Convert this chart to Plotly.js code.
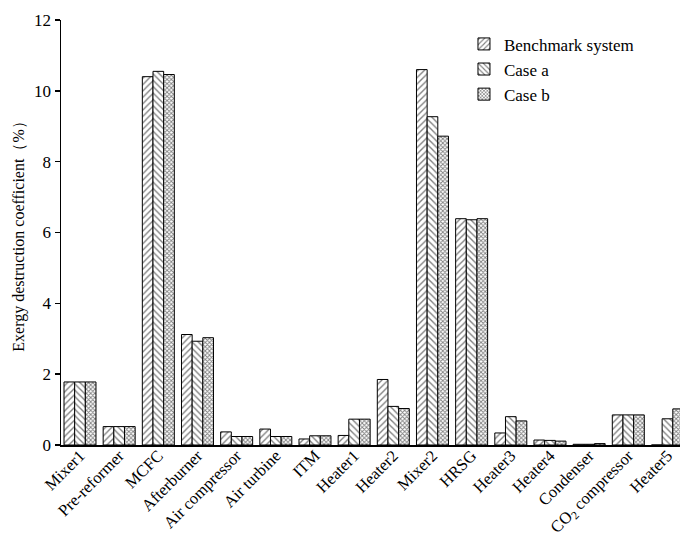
<!DOCTYPE html>
<html>
<head>
<meta charset="utf-8">
<script src="https://cdn.plot.ly/plotly-3.0.1.min.js"></script>
<style>html,body{margin:0;padding:0;background:#fff;}#chart{width:680px;height:538px;}</style>
</head>
<body>
<div id="chart"></div>
<script>
var categories = ["Mixer1","Pre-reformer","MCFC","Afterburner","Air compressor","Air turbine","ITM","Heater1","Heater2","Mixer2","HRSG","Heater3","Heater4","Condenser","CO<sub>2</sub> compressor","Heater5"];
var benchmark = [1.78,0.52,10.40,3.12,0.37,0.45,0.17,0.27,1.85,10.60,6.39,0.34,0.14,0.02,0.85,0];
var caseA     = [1.78,0.52,10.55,2.93,0.24,0.24,0.26,0.73,1.09,9.27,6.36,0.80,0.13,0.02,0.85,0.74];
var caseB     = [1.78,0.52,10.46,3.03,0.24,0.24,0.26,0.73,1.03,8.72,6.39,0.68,0.11,0.04,0.85,1.02];
var seriesNames = ["Benchmark system","Case a","Case b"];
var yTicks = [0,2,4,6,8,10,12];

var font = "Liberation Serif, Times New Roman, serif";
function bar(name, vals, shape, size, sol) {
  return {
    type: "bar", name: name, x: categories, y: vals,
    marker: {
      color: "#ffffff",
      line: {color: "#000", width: 1},
      pattern: {shape: shape, fgcolor: "#000", bgcolor: "#fff", size: size, solidity: sol, fillmode: "overlay"}
    }
  };
}
var data = [
  bar(seriesNames[0], benchmark, "/", 4.5, 0.3),
  bar(seriesNames[1], caseA, "\\", 4.5, 0.3),
  bar(seriesNames[2], caseB, "x", 3, 0.5)
];
var layout = {
  width: 680, height: 538,
  margin: {l: 61, r: 0, t: 20, b: 93},
  paper_bgcolor: "#fff", plot_bgcolor: "#fff",
  font: {family: font, size: 17, color: "#000"},
  barmode: "group", bargap: 0.183, bargroupgap: 0,
  showlegend: true,
  legend: {x: 0.651, y: 0.985, xanchor: "left", yanchor: "top", bgcolor: "rgba(0,0,0,0)", font: {family: font, size: 17}, tracegroupgap: 0},
  xaxis: {
    type: "category", range: [-0.485, 15.32],
    showline: true, linecolor: "#000", linewidth: 1.5,
    ticks: "", tickangle: -45, showgrid: false, zeroline: false,
    ticklabelstandoff: -7,
    tickfont: {family: font, size: 16.5}
  },
  yaxis: {
    range: [0, 12], tickvals: yTicks, ticktext: yTicks.map(String),
    showline: true, linecolor: "#000", linewidth: 1.5,
    ticks: "outside", ticklen: 5, tickwidth: 1.5, tickcolor: "#000",
    showgrid: false, zeroline: false,
    tickfont: {family: font, size: 17},
    title: {text: "Exergy destruction coefficient（%）", font: {family: font, size: 16}, standoff: 5}
  }
};
Plotly.newPlot("chart", data, layout, {displayModeBar: false, staticPlot: true});
</script>
</body>
</html>
